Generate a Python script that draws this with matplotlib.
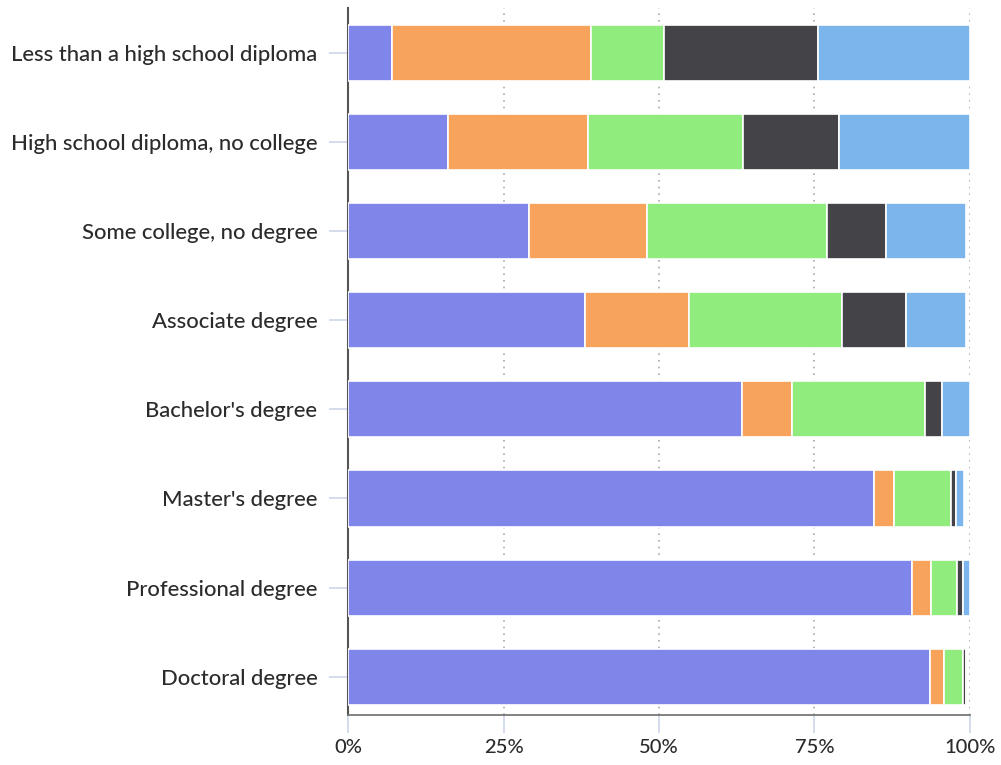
import numpy as np
import matplotlib
matplotlib.use("Agg")
import matplotlib.pyplot as plt

categories = ["Less than a high school diploma", "High school diploma, no college",
              "Some college, no degree", "Associate degree", "Bachelor's degree",
              "Master's degree", "Professional degree", "Doctoral degree"]

# shares (percent) per segment, left to right
s_purple = [7.1, 16.1, 29.1, 38.1, 63.3, 84.6, 90.7, 93.6]
s_orange = [32.0, 22.5, 19.0, 16.7, 8.1, 3.2, 3.0, 2.3]
s_green = [11.7, 24.9, 28.9, 24.6, 21.4, 9.1, 4.2, 3.0]
s_dark = [24.8, 15.4, 9.5, 10.3, 2.7, 0.9, 0.9, 0.5]
s_blue = [24.4, 21.1, 12.9, 9.7, 4.5, 1.2, 1.2, 0.2]

series = [s_purple, s_orange, s_green, s_dark, s_blue]
colors = ["#8085e9", "#f7a35c", "#90ed7d", "#434348", "#7cb5ec"]

plt.rcParams['font.family'] = ['Lato', 'DejaVu Sans']

fig = plt.figure(figsize=(10.01, 7.65), dpi=100)
ax = fig.add_axes([0.3477, 0.0654, 0.969 - 0.3477, 0.9895 - 0.0654])

y = np.arange(len(categories))[::-1]
left = np.zeros(len(categories))
for vals, c in zip(series, colors):
    vals = np.array(vals)
    ax.barh(y, vals, left=left, height=0.63, color=c, edgecolor="white", linewidth=1.2, zorder=3)
    left = left + vals

ax.set_xlim(0, 100)
ax.set_ylim(-0.43, 7.505)
ax.set_yticks(y)
ax.set_yticklabels(categories, fontsize=15.8, color="#2b2b2b", fontweight="medium")
ax.set_xticks([0, 25, 50, 75, 100])
ax.set_xticklabels(["0%", "25%", "50%", "75%", "100%"], fontsize=14.5, color="#2b2b2b",
                   fontweight="medium")

ax.grid(axis="x", linestyle=(0, (1, 3)), color="#aaaaaa", linewidth=1.2, zorder=0)
for s in ["top", "right"]:
    ax.spines[s].set_visible(False)
ax.spines["left"].set_color("#555555")
ax.spines["left"].set_linewidth(1.5)
ax.spines["bottom"].set_color("#777777")
ax.spines["bottom"].set_linewidth(1.3)
ax.tick_params(axis="y", length=14, color="#ccd6eb", width=1.2, pad=8)
ax.tick_params(axis="x", length=13, color="#ccd6eb", width=1.2, pad=4)

fig.savefig("out.png", dpi=100)
